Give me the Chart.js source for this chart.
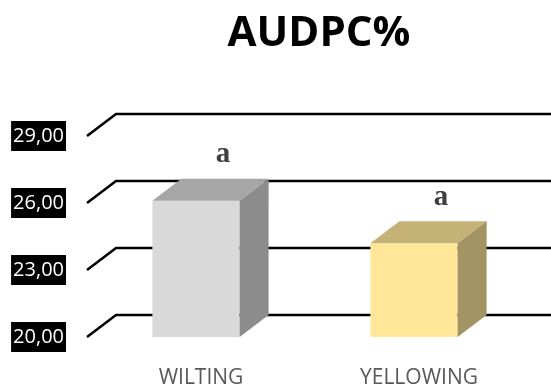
<!DOCTYPE html>
<html>
<head>
<meta charset="utf-8">
<script src="https://cdn.jsdelivr.net/npm/chart.js@4.4.0/dist/chart.umd.min.js"></script>
<style>
  body { margin: 0; background: #fff; }
</style>
</head>
<body>
<canvas id="audpcChart" width="551" height="388"></canvas>
<script>
const chartTitle = 'AUDPC%';
const categories = ['WILTING', 'YELLOWING'];
const audpc = [26.1, 24.2];
const letters = ['a', 'a'];
const yTicks = [20, 23, 26, 29];

const frontColors = ['#D9D9D9', '#FFE699'];
const topColors = ['#A6A6A6', '#C5B277'];
const sideColors = ['#8C8C8C', '#A39463'];

// offset of the back plane, gives the boxes and grid their depth
const depth = { x: 29, y: -22 };

function fillPoly(ctx, pts, color) {
    ctx.fillStyle = color;
    ctx.beginPath();
    ctx.moveTo(pts[0][0], pts[0][1]);
    for (let i = 1; i < pts.length; i++) ctx.lineTo(pts[i][0], pts[i][1]);
    ctx.closePath();
    ctx.fill();
}

const box3d = {
    id: 'box3d',
    beforeDatasetsDraw(chart) {
        const { ctx, chartArea, scales } = chart;
        ctx.save();
        ctx.strokeStyle = '#000';
        ctx.lineWidth = 2.6;
        scales.y.ticks.forEach(t => {
            const py = scales.y.getPixelForValue(t.value);
            ctx.beginPath();
            ctx.moveTo(chartArea.left, py);
            ctx.lineTo(chartArea.left + depth.x, py + depth.y);
            ctx.lineTo(chart.width, py + depth.y);
            ctx.stroke();
        });
        ctx.restore();
    },
    afterDatasetsDraw(chart) {
        const ctx = chart.ctx;
        const meta = chart.getDatasetMeta(0);
        const bottom = chart.chartArea.bottom;
        ctx.save();
        meta.data.forEach((bar, i) => {
            const { x, y, width } = bar.getProps(['x', 'y', 'width'], true);
            const l = x - width / 2, r = x + width / 2;
            // top face
            fillPoly(ctx, [[l, y], [l + depth.x, y + depth.y], [r + depth.x, y + depth.y], [r, y]], topColors[i]);
            // right side face
            fillPoly(ctx, [[r, y], [r + depth.x, y + depth.y], [r + depth.x, bottom + depth.y], [r, bottom]], sideColors[i]);
            // significance letter
            ctx.fillStyle = '#404040';
            ctx.font = 'bold 29px "Liberation Serif", serif';
            ctx.textAlign = 'center';
            ctx.textBaseline = 'middle';
            ctx.fillText(letters[i], x + 27, y - 46);
        });
        ctx.restore();
    },
    afterDraw(chart) {
        // title centred over the plot, from the y axis to the right edge
        const ctx = chart.ctx;
        ctx.save();
        ctx.fillStyle = '#000';
        ctx.font = 'bold 42px "Open Sans", sans-serif';
        ctx.textAlign = 'center';
        ctx.textBaseline = 'middle';
        ctx.fillText(chartTitle, (chart.chartArea.left + chart.width) / 2, 34);
        ctx.restore();
    }
};

new Chart(document.getElementById('audpcChart'), {
    type: 'bar',
    data: {
        labels: categories,
        datasets: [{
            data: audpc,
            base: yTicks[0],
            backgroundColor: frontColors,
            borderWidth: 0,
            categoryPercentage: 1,
            barPercentage: 0.4
        }]
    },
    options: {
        responsive: false,
        animation: false,
        layout: { padding: { top: 136, right: 28 } },
        plugins: {
            legend: { display: false },
            tooltip: { enabled: false },
            title: { display: false }
        },
        scales: {
            x: {
                grid: { display: false, drawTicks: false },
                border: { display: false },
                ticks: {
                    color: '#595959',
                    font: { family: '"Open Sans", sans-serif', size: 21, lineHeight: 1 },
                    padding: 31,
                    labelOffset: 5,
                    maxRotation: 0
                },
                afterFit(s) { s.height = 51; }
            },
            y: {
                min: 20,
                max: 29,
                grid: { display: false, drawTicks: false },
                border: { display: false },
                afterBuildTicks(s) { s.ticks = yTicks.map(v => ({ value: v })); },
                ticks: {
                    color: '#fff',
                    font: { family: '"Open Sans", sans-serif', size: 20 },
                    padding: 23,
                    showLabelBackdrop: true,
                    backdropColor: '#000',
                    backdropPadding: { top: 3, bottom: 3, left: 2, right: 2 },
                    callback: v => v.toFixed(2).replace('.', ',')
                },
                afterFit(s) { s.width = 87; }
            }
        }
    },
    plugins: [box3d]
});
</script>
</body>
</html>
